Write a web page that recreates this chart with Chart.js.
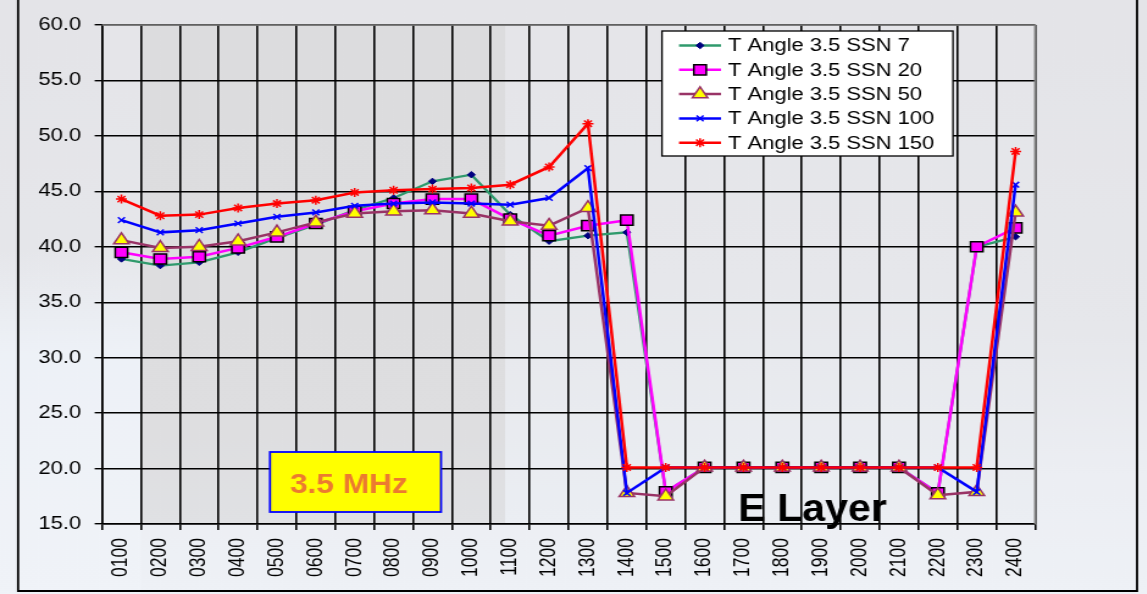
<!DOCTYPE html>
<html>
<head>
<meta charset="utf-8">
<script src="https://cdn.jsdelivr.net/npm/chart.js@4.4.1/dist/chart.umd.min.js"></script>
<style>
  html, body { margin: 0; padding: 0; overflow: hidden; background: #e6e7eb; }
  #wrap { width: 940px; height: 594px; transform: scaleX(1.22); transform-origin: 0 0; }
  canvas { display: block; }
</style>
</head>
<body>
<div id="wrap"><canvas id="c" width="940" height="594"></canvas></div>
<script>
const categories = ['0100','0200','0300','0400','0500','0600','0700','0800','0900','1000','1100','1200',
                    '1300','1400','1500','1600','1700','1800','1900','2000','2100','2200','2300','2400'];
const yTicks = [15, 20, 25, 30, 35, 40, 45, 50, 55, 60];
const seriesNames = ['T Angle 3.5 SSN 7','T Angle 3.5 SSN 20','T Angle 3.5 SSN 50','T Angle 3.5 SSN 100','T Angle 3.5 SSN 150'];
const ssn7   = [38.9, 38.3, 38.6, 39.5, 40.8, 42.0, 43.3, 44.4, 45.9, 46.5, 42.9, 40.5, 41.0, 41.3, 17.9, 20.1, 20.1, 20.1, 20.1, 20.1, 20.1, 17.8, 40.0, 40.9];
const ssn20  = [39.5, 38.9, 39.1, 39.9, 40.9, 42.1, 43.2, 43.9, 44.3, 44.3, 42.5, 41.0, 41.9, 42.4, 17.9, 20.1, 20.1, 20.1, 20.1, 20.1, 20.1, 17.8, 40.0, 41.7];
const ssn50  = [40.6, 39.9, 40.0, 40.5, 41.3, 42.2, 43.0, 43.2, 43.3, 43.0, 42.3, 41.9, 43.5, 17.8, 17.5, 20.1, 20.1, 20.1, 20.1, 20.1, 20.1, 17.6, 17.9, 43.1];
const ssn100 = [42.4, 41.3, 41.5, 42.1, 42.7, 43.1, 43.7, 43.9, 44.0, 43.9, 43.8, 44.4, 47.1, 17.8, 20.1, 20.1, 20.1, 20.1, 20.1, 20.1, 20.1, 20.1, 17.9, 45.6];
const ssn150 = [44.3, 42.8, 42.9, 43.5, 43.9, 44.2, 44.9, 45.1, 45.2, 45.3, 45.6, 47.2, 51.1, 20.1, 20.1, 20.1, 20.1, 20.1, 20.1, 20.1, 20.1, 20.1, 20.1, 48.6];
const freqLabel = '3.5 MHz';
const layerLabel = 'E Layer';

const FONT = '"Liberation Sans", Arial, sans-serif';

const datasets = [
  { label: seriesNames[0], data: ssn7, borderColor: '#2f9a6c', backgroundColor: '#000080', pointBackgroundColor: '#000080', pointBorderColor: '#000080',
    pointStyle: 'rectRot', pointRadius: 3.2, pointBorderWidth: 1, borderWidth: 2.3, order: 5 },
  { label: seriesNames[1], data: ssn20, borderColor: '#ff00ff', backgroundColor: '#ff00ff', pointBackgroundColor: '#ff00ff', pointBorderColor: '#000000',
    pointStyle: 'rect', pointRadius: 7.2, pointBorderWidth: 1.5, borderWidth: 2.5, order: 4 },
  { label: seriesNames[2], data: ssn50, borderColor: '#993366', backgroundColor: '#ffff00', pointBackgroundColor: '#ffff00', pointBorderColor: '#993366',
    pointStyle: 'triangle', pointRadius: 7.3, pointBorderWidth: 1.5, borderWidth: 2.5, order: 3 },
  { label: seriesNames[3], data: ssn100, borderColor: '#0000ff', backgroundColor: '#0000ff', pointBackgroundColor: '#0000ff', pointBorderColor: '#0000ff',
    pointStyle: 'crossRot', pointRadius: 4, pointBorderWidth: 1.5, borderWidth: 2.5, order: 2 },
  { label: seriesNames[4], data: ssn150, borderColor: '#ff0000', backgroundColor: '#ff0000', pointBackgroundColor: '#ff0000', pointBorderColor: '#ff0000',
    pointStyle: 'star', pointRadius: 4.5, pointBorderWidth: 1.5, borderWidth: 2.5, order: 1 }
];
datasets.forEach(d => { d.tension = 0; d.fill = false; d.pointHoverRadius = d.pointRadius; });

const bgPlugin = {
  id: 'bg',
  beforeDraw(chart) {
    const ctx = chart.ctx, W = chart.width, H = chart.height, a = chart.chartArea;
    ctx.save();
    let g = ctx.createLinearGradient(0, 0, 0, H);
    g.addColorStop(0, '#e4e4e8');
    g.addColorStop(0.55, '#e6e7eb');
    g.addColorStop(0.8, '#eceef3');
    g.addColorStop(1, '#eef1f6');
    ctx.fillStyle = g;
    ctx.fillRect(0, 0, W, H);
    let g2 = ctx.createLinearGradient(0, a.top, 0, a.bottom);
    g2.addColorStop(0, '#e5e5e9');
    g2.addColorStop(0.5, '#e6e7eb');
    g2.addColorStop(1, '#ebeef3');
    ctx.fillStyle = g2;
    ctx.fillRect(a.left, a.top, a.right - a.left, a.bottom - a.top);
    const xs = chart.scales.x;
    const bx0 = (xs.getPixelForValue(0) + xs.getPixelForValue(1)) / 2;
    const bx1 = 414;
    let g3 = ctx.createLinearGradient(0, a.top, 0, a.bottom);
    g3.addColorStop(0, '#dcdcde');
    g3.addColorStop(0.8, '#dedee0');
    g3.addColorStop(1, '#e0e1e4');
    ctx.fillStyle = g3;
    ctx.fillRect(bx0, a.top, bx1 - bx0, a.bottom - a.top);
    let g4 = ctx.createLinearGradient(0, 250, 0, 594);
    g4.addColorStop(0, 'rgba(238,242,248,0)');
    g4.addColorStop(0.3, 'rgba(238,242,248,0.9)');
    g4.addColorStop(1, 'rgba(240,243,248,0.9)');
    ctx.fillStyle = g4;
    ctx.fillRect(0, 250, bx0, 344);
    ctx.restore();
  }
};

const overlayPlugin = {
  id: 'overlay',
  afterDraw(chart) {
    const ctx = chart.ctx, a = chart.chartArea;
    ctx.save();
    ctx.strokeStyle = '#808080';
    ctx.lineWidth = 1.6;
    ctx.beginPath();
    ctx.moveTo(a.left, a.top);
    ctx.lineTo(a.right, a.top);
    ctx.lineTo(a.right, a.bottom);
    ctx.stroke();

    const lx0 = 542.6, lx1 = 781.1, ly0 = 31, ly1 = 156;
    ctx.fillStyle = '#ffffff';
    ctx.fillRect(lx0, ly0, lx1 - lx0, ly1 - ly0);
    ctx.strokeStyle = '#000000';
    ctx.lineWidth = 1.3;
    ctx.strokeRect(lx0, ly0, lx1 - lx0, ly1 - ly0);
    const rows = [45.5, 69.8, 94.1, 118.4, 142.7];
    [0, 1, 2, 3, 4].forEach((di, i) => {
      const d = datasets[di];
      const y = rows[i];
      ctx.strokeStyle = d.borderColor;
      ctx.lineWidth = d.borderWidth;
      ctx.beginPath();
      ctx.moveTo(556.6, y);
      ctx.lineTo(591, y);
      ctx.stroke();
      ctx.fillStyle = d.pointBackgroundColor;
      ctx.strokeStyle = d.pointBorderColor;
      ctx.lineWidth = d.pointBorderWidth;
      Chart.helpers.drawPoint(ctx, { pointStyle: d.pointStyle, radius: d.pointRadius, rotation: 0, borderWidth: d.pointBorderWidth }, 573.8, y);
      ctx.fillStyle = '#000000';
      ctx.font = '18px ' + FONT;
      ctx.textAlign = 'left';
      ctx.textBaseline = 'middle';
      ctx.fillText(d.label, 596.7, y + 1);
    });

    const bx0 = 221.3, bx1 = 361.5, by0 = 452, by1 = 512;
    ctx.fillStyle = '#ffff00';
    ctx.fillRect(bx0, by0, bx1 - bx0, by1 - by0);
    ctx.strokeStyle = '#0000ff';
    ctx.lineWidth = 1.8;
    ctx.strokeRect(bx0, by0, bx1 - bx0, by1 - by0);
    drawFit(ctx, freqLabel, 'bold 27px ' + FONT, '#ec7a30', 286, 493, 96.7);

    drawFit(ctx, layerLabel, 'bold 39px ' + FONT, '#000000', 666, 521, 122);

    ctx.strokeStyle = '#000000';
    ctx.lineWidth = 1.8;
    ctx.beginPath();
    ctx.moveTo(14.8, 0);
    ctx.lineTo(14.8, 591);
    ctx.lineTo(932, 591);
    ctx.lineTo(932, 0);
    ctx.stroke();
    ctx.restore();
  }
};

function drawFit(ctx, text, font, color, cx, baseline, width) {
  ctx.save();
  ctx.font = font;
  const w = ctx.measureText(text).width;
  const s = width / w;
  ctx.translate(cx, baseline);
  ctx.scale(s, 1);
  ctx.fillStyle = color;
  ctx.textAlign = 'center';
  ctx.textBaseline = 'alphabetic';
  ctx.fillText(text, 0, 0);
  ctx.restore();
}

new Chart(document.getElementById('c'), {
  type: 'line',
  data: { labels: categories, datasets: datasets },
  options: {
    responsive: false,
    animation: false,
    devicePixelRatio: 1,
    layout: { padding: { left: 0, top: 25, right: 91.6, bottom: 0 } },
    plugins: { legend: { display: false }, tooltip: { enabled: false }, title: { display: false } },
    scales: {
      x: {
        type: 'category',
        offset: true,
        grid: { offset: true, color: '#000000', lineWidth: 1.6, tickLength: 6, drawTicks: true },
        border: { color: '#000000', width: 1.6 },
        ticks: { autoSkip: false, minRotation: 90, maxRotation: 90, padding: 8, color: '#000000',
                 font: { family: FONT, size: 17.5 } },
        afterFit(scale) { scale.height = 70; }
      },
      y: {
        min: 15, max: 60,
        afterBuildTicks(scale) { scale.ticks = yTicks.map(v => ({ value: v })); },
        grid: { color: '#000000', lineWidth: 1.4, tickLength: 6 },
        border: { color: '#000000', width: 1.6 },
        ticks: { padding: 11, color: '#000000', font: { family: FONT, size: 18 },
                 callback: v => Number(v).toFixed(1) },
        afterFit(scale) { scale.width = 83.6; }
      }
    }
  },
  plugins: [bgPlugin, overlayPlugin]
});
</script>
</body>
</html>
